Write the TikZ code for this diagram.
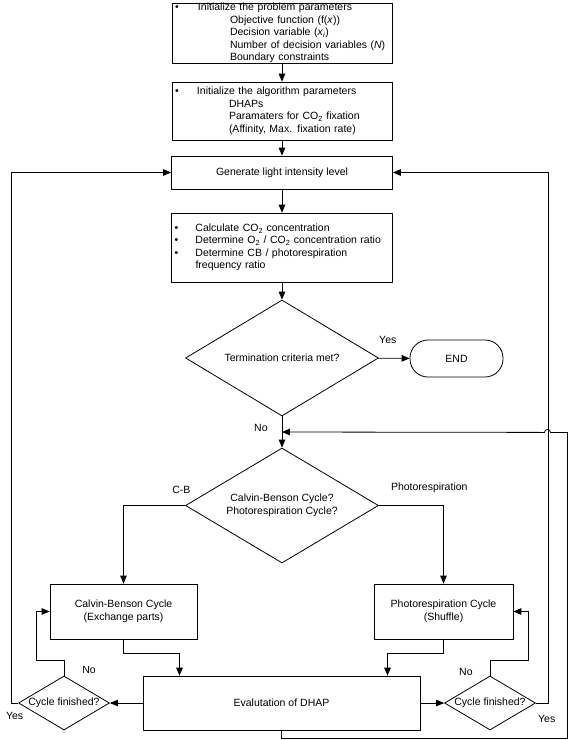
\documentclass[tikz,border=0pt]{standalone}
\usepackage{fontspec}
\setmainfont{Liberation Sans}
\usepackage{tikz}
\usetikzlibrary{arrows,shapes.geometric}

\begin{document}
\begin{tikzpicture}[x=1pt,y=-1pt,->,>=triangle 45,line width=0.8pt,font=\fontsize{10.5}{12.5}\selectfont]
  \tikzstyle{process}=[rectangle,draw,inner xsep=3pt,inner ysep=0pt]
  \tikzstyle{decision}=[diamond,draw,aspect=1.66,inner sep=2pt]
  \tikzstyle{check}=[diamond,draw,minimum width=91pt,minimum height=54pt,inner sep=0pt]
  \tikzstyle{stop}=[rectangle,draw,rounded corners=18pt,minimum width=93pt,minimum height=37pt]
  \tikzstyle{lbl}=[inner sep=0pt]

  \useasboundingbox (0,0) rectangle (568,740);

  \node[process,minimum width=220pt,minimum height=60pt,text width=214pt,align=left] (0) at (282,33)
    {\makebox[23pt][l]{\textbullet}Initialize the problem parameters\\
     \hspace*{55pt}Objective function (f(\textit{x}))\\
     \hspace*{55pt}Decision variable (\textit{x}\textsubscript{\textit{i}})\\
     \hspace*{55pt}Number of decision variables (\textit{N})\\
     \hspace*{55pt}Boundary constraints};
  \node[process,minimum width=220pt,minimum height=58pt,text width=214pt,align=left] (1) at (282,111)
    {\makebox[22pt][l]{\textbullet}Initialize the algorithm parameters\\
     \hspace*{54pt}DHAPs\\
     \hspace*{54pt}Paramaters for CO\textsubscript{2} fixation\\
     \hspace*{54pt}(Affinity, Max. fixation rate)};
  \node[process,minimum width=221pt,minimum height=33pt] (2) at (282,172.5) {Generate light intensity level};
  \node[process,minimum width=221pt,minimum height=69pt,text width=215pt,align=left] (3) at (282,247.5)
    {\makebox[21pt][l]{\textbullet}Calculate CO\textsubscript{2} concentration\\
     \makebox[21pt][l]{\textbullet}Determine O\textsubscript{2} / CO\textsubscript{2} concentration ratio\\
     \makebox[21pt][l]{\textbullet}Determine CB / photorespiration\\
     \hspace*{21pt}frequency ratio};
  \node[decision,minimum width=193pt,minimum height=116pt] (4) at (282,358) {Termination criteria met?};
  \node[stop] (5) at (456.5,358.5) {END};
  \node[decision,minimum width=193pt,minimum height=115pt,align=center] (6) at (282,505.5)
    {Calvin-Benson Cycle?\\Photorespiration Cycle?};
  \node[process,minimum width=147pt,minimum height=55pt,align=center] (7) at (123.5,611.5)
    {Calvin-Benson Cycle\\(Exchange parts)};
  \node[process,minimum width=139pt,minimum height=55pt,align=center] (8) at (443.5,611.5)
    {Photorespiration Cycle\\(Shuffle)};
  \node[process,minimum width=277pt,minimum height=54pt] (9) at (281.5,703) {Evalutation of DHAP};
  \node[check,label=center:{Cycle finished?}] (10) at (64,703) {};
  \node[check,label=center:{Cycle finished?}] (11) at (490,703) {};
  \coordinate (12) at (282,432);

  \path (0) edge (1)
        (1) edge (2)
        (2) edge (3)
        (3) edge (4)
        (4) edge node[lbl,pos=0.3,above=14pt] {Yes} (5)
            edge node[lbl,pos=0.36,left=14pt] {No} (6)
        (9) edge (10)
            edge (11);

  \draw (6) -| node[lbl,pos=0.03,above=12pt] {C-B} (7);
  \draw (6) -| node[lbl,pos=0.39,above=12pt] {Photorespiration} (8);
  \draw (7.south) -- ++(0,14) -| ([xshift=-102pt]9.north);
  \draw (8.south) -- ++(0,14) -| ([xshift=106pt]9.north);

  % cycle not finished: back to the same cycle
  \draw (10.north) -- node[lbl,pos=0.4,right=18pt] {No} ++(0,-15) -- ++(-28,0) |- (7.west);
  \draw (11.north) -- node[lbl,pos=0.27,left=17pt] {No} ++(0,-15) -- ++(38,0) |- (8.east);

  % cycle finished: new light intensity level
  \draw (10.west) -- node[lbl,below=9pt] {Yes} ++(-7,0) |- (2.west);
  \draw (11.east) -- node[lbl,pos=0.9,below=12pt] {Yes} ++(12,0) |- (2.east);

  \draw (9.south) -- ++(0,8) -| ++(286,-306) -- ++(-17,0) arc(0:180:3pt) -- (12);
\end{tikzpicture}
\end{document}
